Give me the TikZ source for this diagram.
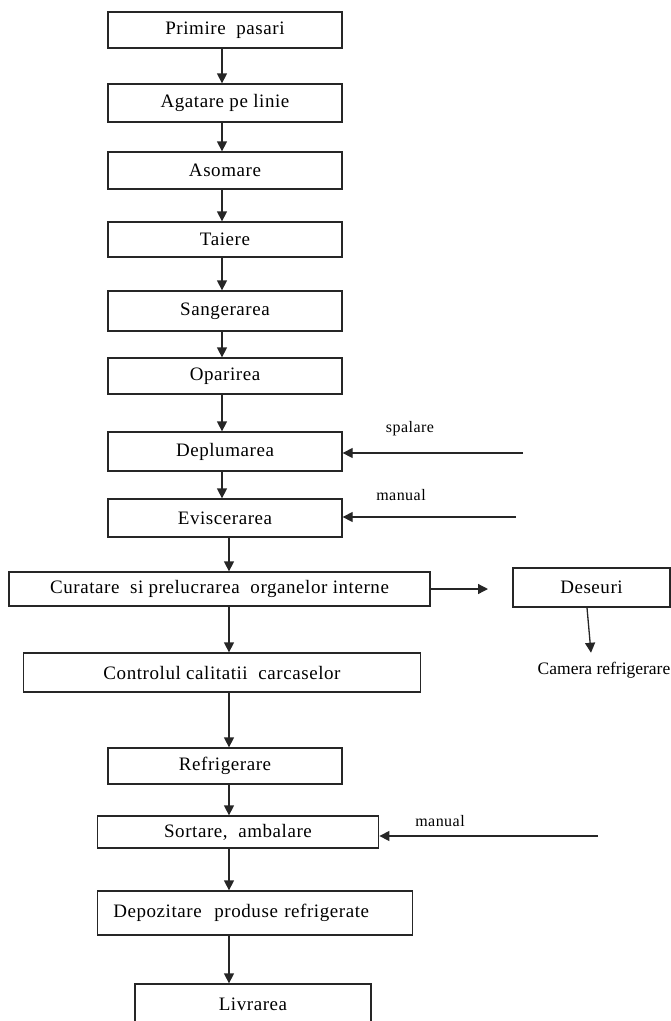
\documentclass[tikz,border=0pt]{standalone}
\usepackage{fontspec}
\setmainfont[LetterSpace=3]{Liberation Serif}
\newfontfamily\plainserif{Liberation Serif}
\usetikzlibrary{arrows.meta}

\tikzset{
    stepbox/.style={draw=black!85, line width=1.3pt, inner sep=0pt, minimum width=234pt, font=\fontsize{19}{21}\selectfont},
    flow/.style={draw=black!85, line width=1.3pt, -{Triangle[width=10pt,length=10pt]}},
    note/.style={inner sep=0pt, font=\fontsize{16}{18}\selectfont}
}

\begin{document}
\begin{tikzpicture}[x=1pt, y=-1pt]
            \useasboundingbox (0,0) rectangle (671,1021);

            \node (s1) at (225,30) [stepbox, minimum height=36pt] {Primire\ \ pasari};
            \node (s2) at (225,103) [stepbox, minimum height=38pt] {Agatare pe linie};
            \node (s3) at (225,170.5) [stepbox, minimum height=37pt] {Asomare};
            \node (s4) at (225,239.5) [stepbox, minimum height=35pt] {Taiere};
            \node (s5) at (225,311) [stepbox, minimum height=40pt] {Sangerarea};
            \node (s6) at (225,376) [stepbox, minimum height=36pt] {Oparirea};
            \node (s7) at (225,451.5) [stepbox, minimum height=39pt] {Deplumarea};
            \node (s8) at (225,518) [stepbox, minimum height=38pt] {Eviscerarea};
            \node (s9) at (219.5,589) [stepbox, minimum width=421pt, minimum height=34pt] {Curatare\ \ si prelucrarea\ \ organelor interne};
            \node (s10) at (222,672.5) [stepbox, minimum width=397.5pt, minimum height=39pt] {Controlul calitatii\ \ carcaselor};
            \node (s11) at (225,766) [stepbox, minimum height=36pt] {Refrigerare};
            \node (s12) at (238,832) [stepbox, minimum width=281.5pt, minimum height=32pt] {Sortare,\ \ ambalare};
            \node (s13) at (255,913) [stepbox, minimum width=0pt, text width=283.5pt, inner xsep=15.5pt, align=left, minimum height=44pt] {Depozitare\ \ produse refrigerate};
            \node (s14) at (253,1004) [stepbox, minimum width=236pt, minimum height=40pt] {Livrarea};

            \node (des) at (591.5,587.5) [stepbox, minimum width=157pt, minimum height=39pt] {Deseuri};
            \node (cam) at (604,670) [inner sep=0pt, font=\plainserif\fontsize{17.5}{20}\selectfont] {Camera refrigerare};

            \coordinate (a1) at (222,0);
            \coordinate (a2) at (229,0);
            \draw[flow] (s1.south -| a1) -- (s2.north -| a1);
            \draw[flow] (s2.south -| a1) -- (s3.north -| a1);
            \draw[flow] (s3.south -| a1) -- (s4.north -| a1);
            \draw[flow] (s4.south -| a1) -- (s5.north -| a1);
            \draw[flow] (s5.south -| a1) -- (s6.north -| a1);
            \draw[flow] (s6.south -| a1) -- (s7.north -| a1);
            \draw[flow] (s7.south -| a1) -- (s8.north -| a1);
            \draw[flow] (s8.south -| a2) -- (s9.north -| a2);
            \draw[flow] (s9.south -| a2) -- (s10.north -| a2);
            \draw[flow] (s10.south -| a2) -- (s11.north -| a2);
            \draw[flow] (s11.south -| a2) -- (s12.north -| a2);
            \draw[flow] (s12.south -| a2) -- (s13.north -| a2);
            \draw[flow] (s13.south -| a2) -- (s14.north -| a2);

            \coordinate (in1) at (523,453);
            \coordinate (in2) at (516,517);
            \coordinate (in3) at (598,836);
            \coordinate (out1) at (488,589);
            \node (l1) at (410,429) [note] {spalare};
            \node (l2) at (401,495) [note] {manual};
            \node (l3) at (440,821) [note] {manual};
            \draw[flow] (in1) -- (s7.east |- in1);
            \draw[flow] (in2) -- (s8.east |- in2);
            \draw[flow] (in3) -- (s12.east |- in3);
            \draw[flow] (s9.east) -- (out1);
            \draw[flow] ([xshift=-4.5pt]des.south) -- ([xshift=-13pt,yshift=9pt]cam.north);

        \end{tikzpicture}
\end{document}
